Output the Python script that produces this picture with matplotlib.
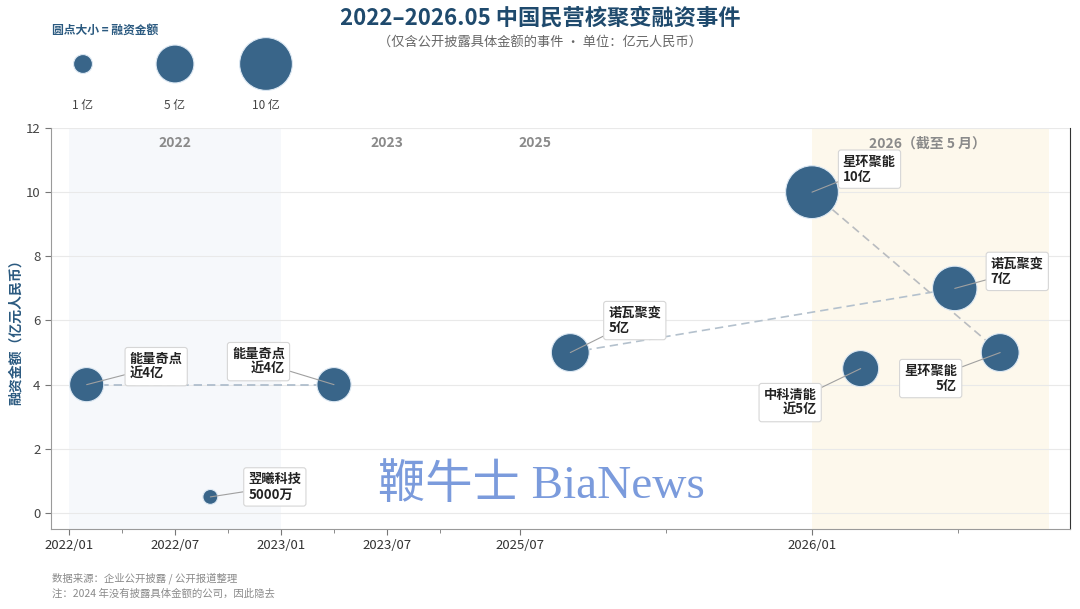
import numpy as np
import matplotlib
matplotlib.use("Agg")
import matplotlib.pyplot as plt

plt.rcParams['font.family'] = ['Noto Sans CJK SC', 'DejaVu Sans']

# ---------------- data ----------------
companies = ["能量奇点", "翌曦科技", "能量奇点", "诺瓦聚变", "星环聚能", "中科清能", "诺瓦聚变", "星环聚能"]
dates = ["2022-02-01", "2022-09-01", "2023-04-01", "2025-08-02", "2026-01-01", "2026-02-01", "2026-03-29", "2026-04-27"]
amounts = [4.0, 0.5, 4.0, 5.0, 10.0, 4.5, 7.0, 5.0]
amount_labels = ["近4亿", "5000万", "近4亿", "5亿", "10亿", "近5亿", "7亿", "5亿"]
links = [(0, 2), (3, 6), (4, 7)]

tick_labels = ["2022/01", "2022/07", "2023/01", "2023/07", "2025/07", "2026/01"]
minor_ticks = ["2022/04", "2022/10", "2023/04", "2023/10", "2025/10", "2026/04"]
legend_values = [1, 5, 10]
legend_labels = ["1 亿", "5 亿", "10 亿"]

# ------------- piecewise time scale (2024 hidden) -------------
anchor_months = [0, 18, 21, 42, 48, 51]
anchor_pos = [69, 387, 440, 520, 812, 958]

def month_index(s):
    parts = s.replace("/", "-").split("-")
    y, m = int(parts[0]), int(parts[1])
    d = int(parts[2]) if len(parts) > 2 else 1
    return (y - 2022) * 12 + (m - 1) + (d - 1) / 30.0

def xpos(s):
    mi = month_index(s)
    if mi > anchor_months[-1]:
        rate = (anchor_pos[-1] - anchor_pos[-2]) / (anchor_months[-1] - anchor_months[-2])
        return anchor_pos[-1] + (mi - anchor_months[-1]) * rate
    return float(np.interp(mi, anchor_months, anchor_pos))

def bubble_size(v):
    return 45 + 140 * np.asarray(v, dtype=float)

xs = np.array([xpos(d) for d in dates])
ys = np.array(amounts)

BUBBLE = "#396589"
fig = plt.figure(figsize=(10.8, 6.09), dpi=100)
ax = fig.add_axes([51/1080, 1-529/609, (1070-51)/1080, (529-128)/609])

ax.set_xlim(51, 1070)
ax.set_ylim(-0.5, 12)

# bands
ax.axvspan(xpos("2022-01-01"), xpos("2023-01-01"), color="#f6f8fb", zorder=0, lw=0)
ax.axvspan(xpos("2026-01-01"), xpos("2026-05-27"), color="#fdf8ec", zorder=0, lw=0)

# grid
ax.set_yticks(range(0, 13, 2))
ax.yaxis.grid(True, color="#e9e9e9", lw=0.8, zorder=0.5)
ax.set_axisbelow(True)

# year labels
for txt, d in [("2022", "2022-07-01"), ("2023", "2023-07-01"), ("2025", "2025-07-10"), ("2026（截至 5 月）", "2026-03-12")]:
    ax.text(xpos(d), 0.962, txt, transform=ax.get_xaxis_transform(), ha="center", va="center",
            fontsize=10, fontweight="bold", color="#8a8a8a")

# link lines
link_colors = ["#aab9c9", "#b4c1cd", "#b9bcc0"]
for (a, b), c in zip(links, link_colors):
    ax.plot([xs[a], xs[b]], [ys[a], ys[b]], ls=(0, (5, 3)), color=c, lw=1.2, zorder=2)

# bubbles
ax.scatter(xs, ys, s=bubble_size(ys), color=BUBBLE, edgecolor="#dce8f3", linewidth=0.8, zorder=3)

# labels
offsets = [(43, 18, "left"), (38, 10, "left"), (-49, 23, "right"), (38, 32, "left"),
           (31, 23, "left"), (-44, -34, "right"), (36, 17, "left"), (-43, -26, "right")]
for i, (dx, dy, ha) in enumerate(offsets):
    ax.annotate(companies[i] + "\n" + amount_labels[i], xy=(xs[i], ys[i]), xytext=(dx, dy),
                textcoords="offset pixels", ha=ha, va="center", fontsize=9.5, fontweight="bold",
                color="#222222", linespacing=1.1, zorder=5,
                bbox=dict(boxstyle="round,pad=0.35,rounding_size=0.2", fc="white", ec="#d6d6d6", lw=0.8),
                arrowprops=dict(arrowstyle="-", color="#a0a0a0", lw=0.8, shrinkA=0, shrinkB=0))

# axes style
ax.set_xticks([xpos(t) for t in tick_labels])
ax.set_xticklabels(tick_labels)
ax.set_xticks([xpos(t) for t in minor_ticks], minor=True)
ax.tick_params(axis="x", which="major", labelsize=9.5, colors="#777", labelcolor="#333", length=4)
ax.tick_params(axis="x", which="minor", colors="#777", length=3)
ax.tick_params(axis="y", labelsize=9.5, colors="#777", labelcolor="#444", length=4)
for s in ["left", "bottom"]:
    ax.spines[s].set_color("#9a9a9a")
ax.spines["top"].set_visible(False)
ax.spines["right"].set_color("#333333")
ax.set_ylabel("融资金额（亿元人民币）", fontsize=10, fontweight="bold", color="#2b5a80", labelpad=2)

# watermark
ax.text(xpos("2025-02-01") + 40, 0.85, "鞭牛士 BiaNews", ha="center", va="center", fontsize=34,
        color="#7b9bdc", family=["Liberation Serif", "Noto Sans CJK SC"], zorder=1)

fig.text(0.5, 1-18/609, "2022–2026.05 中国民营核聚变融资事件", ha="center", va="center",
         fontsize=16, fontweight="bold", color="#1f4a6d")
fig.text(0.5, 1-43/609, "（仅含公开披露具体金额的事件 · 单位：亿元人民币）", ha="center", va="center",
         fontsize=9.5, color="#666666")

fig.text(52/1080, 1-30/609, "圆点大小 = 融资金额", ha="left", va="center", fontsize=8.5,
         fontweight="bold", color="#2b5a80")
leg_x = [83, 175, 266]
ov2 = fig.add_axes([0, 0, 1, 1])
ov2.set_xlim(0, 1080)
ov2.set_ylim(609, 0)
ov2.axis("off")
ov2.scatter(leg_x, [64] * 3, s=bubble_size(legend_values), color=BUBBLE, edgecolor="#dce8f3", linewidth=0.8)
for x, t in zip(leg_x, legend_labels):
    ov2.text(x, 105, t, ha="center", va="center", fontsize=8.5, color="#444")

fig.text(52/1080, 1-578/609, "数据来源：企业公开披露 / 公开报道整理", ha="left", va="center", fontsize=7.5, color="#8a8a8a")
fig.text(52/1080, 1-594/609, "注：2024 年没有披露具体金额的公司，因此隐去", ha="left", va="center", fontsize=7.5, color="#8a8a8a")

fig.savefig("out.png", dpi=100)
